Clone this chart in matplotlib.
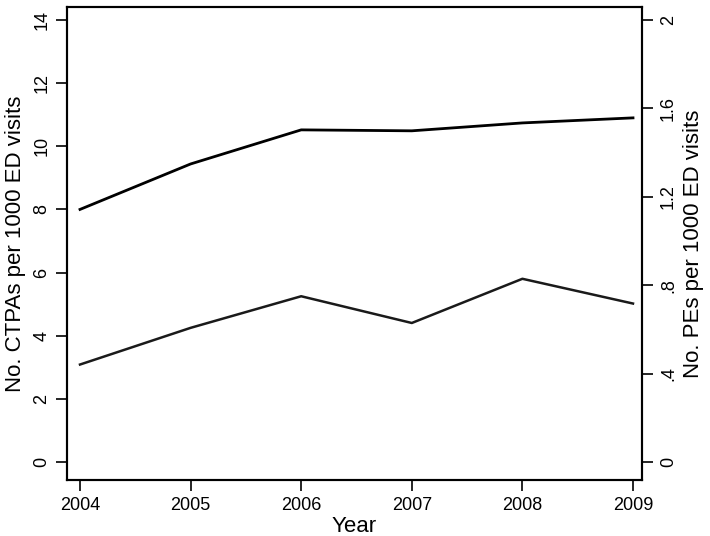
import matplotlib
matplotlib.use("Agg")
import matplotlib.pyplot as plt

years = [2004, 2005, 2006, 2007, 2008, 2009]
ctpa_rate = [8.0, 9.44, 10.52, 10.49, 10.74, 10.90]
pe_rate = [0.441, 0.607, 0.750, 0.629, 0.829, 0.717]
left_ticks = [0, 2, 4, 6, 8, 10, 12, 14]
right_ticks = [0, 0.4, 0.8, 1.2, 1.6, 2.0]
right_labels = ["0", ".4", ".8", "1.2", "1.6", "2"]

plt.rcParams['font.family'] = ['Liberation Sans', 'DejaVu Sans']

fig = plt.figure(figsize=(7.10, 5.36), dpi=100)
ax = fig.add_axes([67/710, 1-480/536, (642-67)/710, (480-7)/536])
ax2 = ax.twinx()

ax.plot(years, ctpa_rate, color='black', lw=2.0)
ax2.plot(years, pe_rate, color='#1a1a1a', lw=1.8)

ax.set_xlim(2004 - 13/110.6, 2009 + 9/110.6)
ylo = -18/31.57
yhi = 14 + 13/31.57
ax.set_ylim(ylo, yhi)
ax2.set_ylim(ylo/7, yhi/7)

ax.set_xticks(years)
ax.set_xticklabels([str(y) for y in years])
ax.set_yticks(left_ticks)
ax.set_yticklabels([str(t) for t in left_ticks], rotation=90, va='center')
ax2.set_yticks(right_ticks)
ax2.set_yticklabels(right_labels, rotation=90, va='center')

fs = 13
for a in (ax, ax2):
    a.tick_params(axis='both', labelsize=fs, length=8, width=1.2, color='black', direction='out', pad=4)
    for s in a.spines.values():
        s.set_linewidth(1.5)
ax2.tick_params(axis='y', pad=5)

lfs = 16
ax.set_xlabel("Year", fontsize=lfs, labelpad=2)
ax.set_ylabel("No. CTPAs per 1000 ED visits", fontsize=lfs, labelpad=5)
ax2.set_ylabel("No. PEs per 1000 ED visits", fontsize=lfs, labelpad=4)

fig.savefig("out.png", dpi=100)
